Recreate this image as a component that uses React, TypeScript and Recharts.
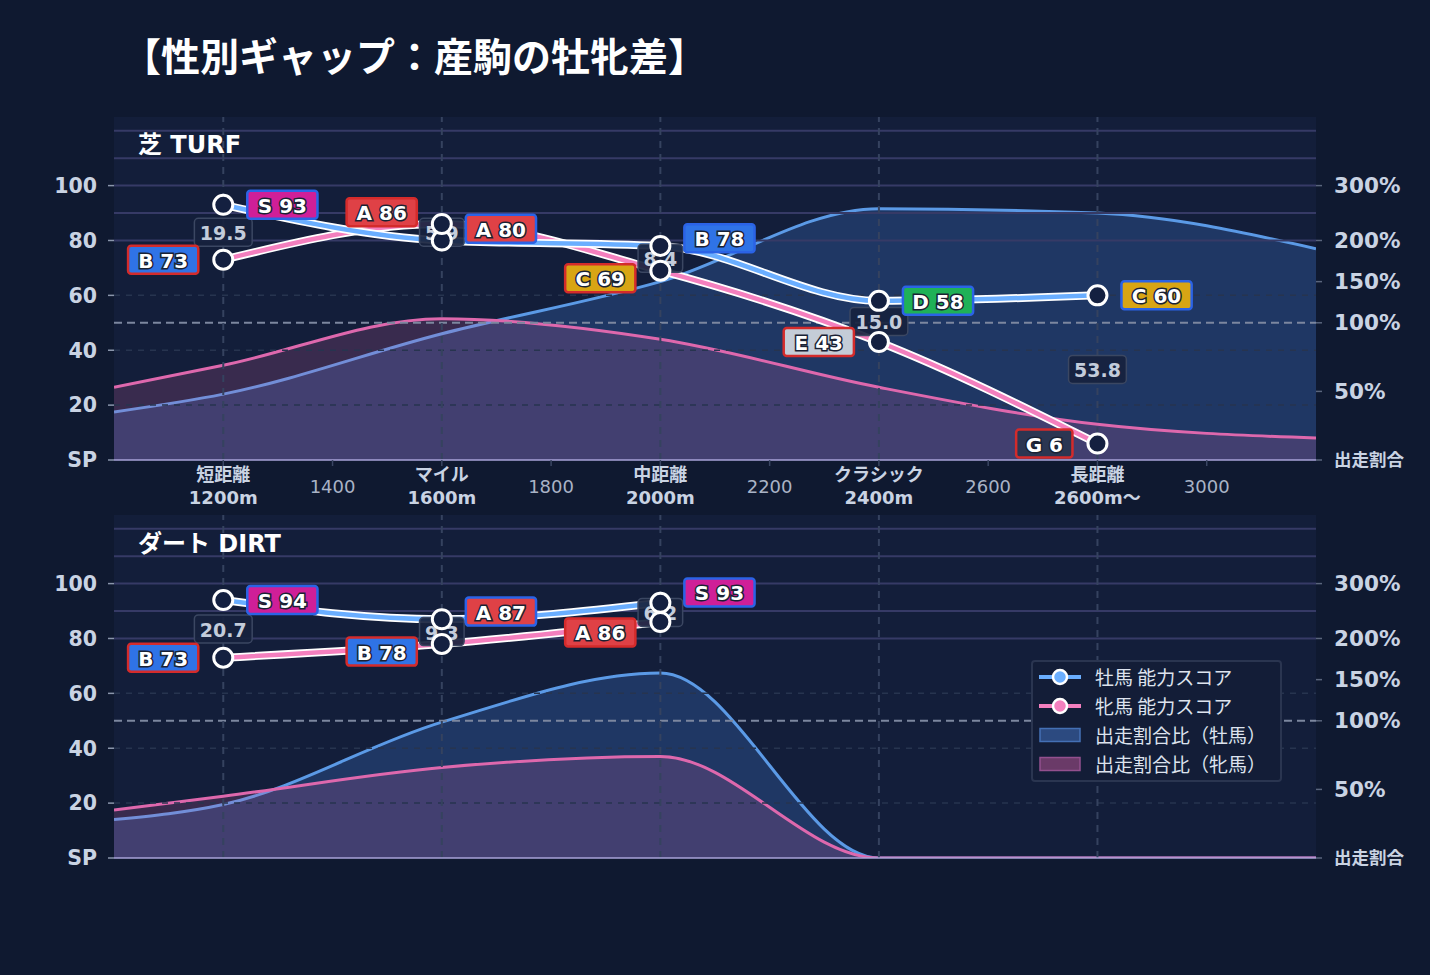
import React from 'react';
import {
  ComposedChart,
  Area,
  Line,
  Scatter,
  XAxis,
  YAxis,
  CartesianGrid,
  ReferenceLine,
} from 'recharts';

const FONT = '"DejaVu Sans", "Noto Sans CJK JP", sans-serif';
const JP = '"Noto Sans CJK JP", "DejaVu Sans", sans-serif';

// Distance axis
const DIST_TICKS = [1200, 1400, 1600, 1800, 2000, 2200, 2400, 2600, 2800, 3000];
const DIST_MAJOR = [1200, 1600, 2000, 2400, 2800];
const DIST_NAMES = ['短距離', 'マイル', '中距離', 'クラシック', '長距離'];
const DIST_METERS = ['1200m', '1600m', '2000m', '2400m', '2600m〜'];

// Left (score) and right (entry share) axes
const SCORE_TICKS = [0, 20, 40, 60, 80, 100];
const SHARE_TICK_PCT = [0, 50, 100, 150, 200, 300];

// Entry share ratio curves (%), sampled along distance
const SHARE_DIST = [1000, 1200, 1600, 2000, 2400, 2800, 3200];
const TURF_MALE_SHARE = [35, 48, 92, 150, 258, 250, 190];
const TURF_FEMALE_SHARE = [53, 69, 105, 88, 53, 26, 16];
const DIRT_MALE_SHARE = [28, 39, 99, 158, 0, 0, 0];
const DIRT_FEMALE_SHARE = [35, 45, 66, 74, 0, 0, 0];

// Ability scores by distance
const TURF_DIST = [1200, 1600, 2000, 2400, 2800];
const TURF_MALE = [93, 80, 78, 58, 60];
const TURF_FEMALE = [73, 86, 69, 43, 6];
const TURF_GAP = ['19.5', '5.9', '8.4', '15.0', '53.8'];

const DIRT_DIST = [1200, 1600, 2000];
const DIRT_MALE = [94, 87, 93];
const DIRT_FEMALE = [73, 78, 86];
const DIRT_GAP = ['20.7', '9.3', '6.2'];

const RANKS: [string, number, string][] = [
  ['S', 90, '#cf1f98'],
  ['A', 80, '#df4146'],
  ['B', 70, '#2f73e6'],
  ['C', 60, '#d8a514'],
  ['D', 50, '#1fb157'],
  ['E', 40, '#c4ccd7'],
  ['F', 20, '#7a5a9a'],
  ['G', 0, '#2b3652'],
];

const rankOf = (v: number) => RANKS.find((r) => v >= r[1]) || RANKS[RANKS.length - 1];

// piecewise scale: 0-100% -> 0-50, 100-200% -> 50-80, 200-300% -> 80-100
const shareToAxis = (p: number) =>
  p <= 100 ? p / 2 : p <= 200 ? 50 + (p - 100) * 0.3 : 80 + (p - 200) * 0.2;
const SHARE_TICKS = SHARE_TICK_PCT.map(shareToAxis);

const Y_MAX = 125;
const PLOT_H = 343;
const PX_PER_UNIT = PLOT_H / Y_MAX;
const LABEL_SEP = 40;

const BG = '#0f1930';
const PLOT_BG = '#131e3a';
const MALE_LINE = '#6aaeff';
const FEMALE_LINE = '#f47fbe';
const MALE_AREA = '#5b9ae6';
const FEMALE_AREA = '#de68ad';

const textW = (s: string, digit: number, dot: number, letter: number, space: number) =>
  s.split('').reduce((w, ch) => {
    if (ch === '.') return w + dot;
    if (ch === ' ') return w + space;
    if (/[0-9]/.test(ch)) return w + digit;
    return w + letter;
  }, 0);

// keeps the two rank tags at one distance from crowding each other
const labelShift = (field: string, m: number, f: number) => {
  const diff = Math.abs(m - f) * PX_PER_UNIT;
  if (diff >= LABEL_SEP) return 0;
  const push = (LABEL_SEP - diff) / 2;
  if (m >= f) return field === 'male' ? -push : push;
  return -push;
};

function GapShape(props: any) {
  const { cx, cy, payload } = props;
  if (cx == null || cy == null) return null;
  const t = payload.gap as string;
  const w = textW(t, 13.2, 7.2, 13.5, 6.6) + 11;
  return (
    <g>
      <rect
        x={cx - w / 2}
        y={cy - 14}
        width={w}
        height={28}
        rx={4}
        fill="#17223e"
        fillOpacity={0.92}
        stroke="#3b4762"
        strokeWidth={1.5}
      />
      <text
        x={cx}
        y={cy + 1}
        textAnchor="middle"
        dominantBaseline="central"
        fontFamily={FONT}
        fontWeight="bold"
        fontSize={19}
        fill="#c3ccdb"
      >
        {t}
      </text>
    </g>
  );
}

function ScoreMarker(props: any) {
  const { cx, cy, payload, field, side, border } = props;
  if (cx == null || cy == null) return null;
  const v = payload[field] as number;
  const [rank, , color] = rankOf(v);
  const label = `${rank} ${v}`;
  const w = textW(label, 13.9, 7, 14.4, 7) + 21;
  const x = side === 'right' ? cx + 24 : cx - 25 - w;
  const ly = cy + labelShift(field, payload.male, payload.female);
  return (
    <g>
      <circle cx={cx} cy={cy} r={9.5} fill="#142040" stroke="#ffffff" strokeWidth={3} />
      <rect
        x={x}
        y={ly - 14}
        width={w}
        height={28}
        rx={3}
        fill={color}
        stroke={border}
        strokeWidth={2.5}
      />
      <text
        x={x + w / 2}
        y={ly + 1}
        textAnchor="middle"
        dominantBaseline="central"
        fontFamily={FONT}
        fontWeight="bold"
        fontSize={20}
        fill="#ffffff"
        stroke="#1a2234"
        strokeWidth={3}
        paintOrder="stroke"
      >
        {label}
      </text>
    </g>
  );
}

function DistTick(props: any) {
  const { x, y, payload } = props;
  const v = payload.value as number;
  const i = DIST_MAJOR.indexOf(v);
  if (i >= 0) {
    return (
      <g>
        <text
          x={x}
          y={y + 6}
          textAnchor="middle"
          dominantBaseline="central"
          fontFamily={FONT}
          fontWeight="bold"
          fontSize={18}
          fill="#c9d3e3"
        >
          {DIST_NAMES[i]}
        </text>
        <text
          x={x}
          y={y + 29}
          textAnchor="middle"
          dominantBaseline="central"
          fontFamily={FONT}
          fontWeight="bold"
          fontSize={18}
          fill="#c9d3e3"
        >
          {DIST_METERS[i]}
        </text>
      </g>
    );
  }
  return (
    <text
      x={x}
      y={y + 18}
      textAnchor="middle"
      dominantBaseline="central"
      fontFamily={FONT}
      fontSize={18}
      fill="#a9b3c6"
    >
      {v}
    </text>
  );
}

function ShareTick(props: any) {
  const { x, y, payload } = props;
  const idx = SHARE_TICKS.indexOf(payload.value);
  const pct = SHARE_TICK_PCT[idx];
  const isBase = pct === 0;
  return (
    <text
      x={x}
      y={y}
      textAnchor="start"
      dominantBaseline="central"
      fontFamily={FONT}
      fontWeight="bold"
      fontSize={isBase ? 17.5 : 21.5}
      fill="#c9d3e3"
    >
      {isBase ? '出走割合' : `${pct}%`}
    </text>
  );
}

type PanelProps = {
  dist: number[];
  male: number[];
  female: number[];
  gaps: string[];
  maleShare: number[];
  femaleShare: number[];
  height: number;
  marginTop: number;
  xAxisHeight: number;
  showXLabels: boolean;
};

function Panel(p: PanelProps) {
  const shareRows = SHARE_DIST.map((d, i) => ({
    d,
    m: shareToAxis(p.maleShare[i]),
    f: shareToAxis(p.femaleShare[i]),
  }));
  const scoreRows = p.dist.map((d, i) => ({
    d,
    male: p.male[i],
    female: p.female[i],
    mid: (p.male[i] + p.female[i]) / 2,
    gap: p.gaps[i],
  }));

  return (
    <ComposedChart
      width={1430}
      height={p.height}
      margin={{ top: p.marginTop, right: 0, bottom: 0, left: 0 }}
    >
      <CartesianGrid yAxisId="l" fill={PLOT_BG} stroke="none" horizontal={false} vertical={false} />
      <XAxis
        dataKey="d"
        type="number"
        domain={[1000, 3200]}
        ticks={p.showXLabels ? DIST_TICKS : DIST_MAJOR}
        allowDataOverflow
        height={p.xAxisHeight}
        axisLine={{ stroke: '#a9a3d8', strokeWidth: 1.5 }}
        tickLine={{ stroke: '#3a4663', strokeWidth: 1.5 }}
        tickSize={6}
        tickMargin={2}
        tick={p.showXLabels ? <DistTick /> : false}
        interval={0}
      />
      <YAxis
        yAxisId="l"
        orientation="left"
        type="number"
        domain={[0, Y_MAX]}
        ticks={SCORE_TICKS}
        allowDataOverflow
        width={114}
        axisLine={false}
        tickLine={{ stroke: '#8a95ab', strokeWidth: 1.5 }}
        tickSize={6}
        tickMargin={11}
        interval={0}
        tickFormatter={(v: number) => (v === 0 ? 'SP' : String(v))}
        tick={{ fill: '#c9d3e3', fontSize: 20.5, fontWeight: 'bold', fontFamily: FONT }}
      />
      <YAxis
        yAxisId="r"
        orientation="right"
        type="number"
        domain={[0, Y_MAX]}
        ticks={SHARE_TICKS}
        allowDataOverflow
        width={114}
        axisLine={false}
        tickLine={{ stroke: '#5a657d', strokeWidth: 1.5 }}
        tickSize={6}
        tickMargin={12}
        interval={0}
        tick={<ShareTick />}
      />

      {/* entry-share areas */}
      <Area
        yAxisId="l"
        data={shareRows}
        dataKey="m"
        type="monotone"
        stroke={MALE_AREA}
        strokeWidth={3}
        fill="#3d74c8"
        fillOpacity={0.3}
        dot={false}
        activeDot={false}
        isAnimationActive={false}
      />
      <Area
        yAxisId="l"
        data={shareRows}
        dataKey="f"
        type="monotone"
        stroke={FEMALE_AREA}
        strokeWidth={3}
        fill="#d060a0"
        fillOpacity={0.2}
        dot={false}
        activeDot={false}
        isAnimationActive={false}
      />

      {/* guide lines */}
      {[80, 90, 100, 110, 120].map((v) => (
        <ReferenceLine key={`s${v}`} yAxisId="l" y={v} stroke="#363a66" strokeWidth={2} />
      ))}
      {[20, 40, 60].map((v) => (
        <ReferenceLine
          key={`g${v}`}
          yAxisId="l"
          y={v}
          stroke="#27344f"
          strokeWidth={1.5}
          strokeDasharray="6 6"
        />
      ))}
      <ReferenceLine
        yAxisId="l"
        y={shareToAxis(100)}
        stroke="#7c879f"
        strokeWidth={2}
        strokeDasharray="8 5"
      />
      {DIST_MAJOR.map((d) => (
        <ReferenceLine
          key={`v${d}`}
          yAxisId="l"
          x={d}
          stroke="#35425f"
          strokeWidth={2}
          strokeDasharray="7 6"
        />
      ))}

      {/* ability score lines */}
      <Line
        yAxisId="l"
        data={scoreRows}
        dataKey="female"
        type="monotone"
        stroke="#ffffff"
        strokeWidth={8}
        dot={false}
        activeDot={false}
        isAnimationActive={false}
      />
      <Line
        yAxisId="l"
        data={scoreRows}
        dataKey="female"
        type="monotone"
        stroke={FEMALE_LINE}
        strokeWidth={4.5}
        dot={false}
        activeDot={false}
        isAnimationActive={false}
      />
      <Line
        yAxisId="l"
        data={scoreRows}
        dataKey="male"
        type="monotone"
        stroke="#ffffff"
        strokeWidth={8}
        dot={false}
        activeDot={false}
        isAnimationActive={false}
      />
      <Line
        yAxisId="l"
        data={scoreRows}
        dataKey="male"
        type="monotone"
        stroke={MALE_LINE}
        strokeWidth={4.5}
        dot={false}
        activeDot={false}
        isAnimationActive={false}
      />

      {/* gap boxes, then markers with rank labels */}
      <Scatter
        yAxisId="l"
        data={scoreRows}
        dataKey="mid"
        shape={(sp: any) => <GapShape {...sp} />}
        isAnimationActive={false}
      />
      <Scatter
        yAxisId="l"
        data={scoreRows}
        dataKey="male"
        shape={(sp: any) => <ScoreMarker {...sp} field="male" side="right" border="#2b63e6" />}
        isAnimationActive={false}
      />
      <Scatter
        yAxisId="l"
        data={scoreRows}
        dataKey="female"
        shape={(sp: any) => <ScoreMarker {...sp} field="female" side="left" border="#d42b2b" />}
        isAnimationActive={false}
      />
    </ComposedChart>
  );
}

function LegendBox() {
  const rowStyle: React.CSSProperties = {
    display: 'flex',
    alignItems: 'center',
    height: 29,
  };
  const txt: React.CSSProperties = {
    marginLeft: 12,
    fontFamily: JP,
    fontSize: 19,
    color: '#dde3ee',
    whiteSpace: 'nowrap',
  };
  const lineSwatch = (c: string) => (
    <svg width={46} height={20}>
      <line x1={2} y1={10} x2={44} y2={10} stroke={c} strokeWidth={4} />
      <circle cx={23} cy={10} r={7} fill={c} stroke="#ffffff" strokeWidth={2.5} />
    </svg>
  );
  const rectSwatch = (fill: string, stroke: string) => (
    <svg width={46} height={20}>
      <rect x={3} y={3.5} width={40} height={13} fill={fill} stroke={stroke} strokeWidth={1.5} />
    </svg>
  );
  return (
    <div
      style={{
        position: 'absolute',
        left: 1031,
        top: 660,
        width: 251,
        height: 122,
        boxSizing: 'border-box',
        border: '2px solid #2a3550',
        borderRadius: 4,
        background: '#131d37',
        padding: '0 0 0 4px',
      }}
    >
      <div style={rowStyle}>
        {lineSwatch(MALE_LINE)}
        <span style={txt}>牡馬 能力スコア</span>
      </div>
      <div style={rowStyle}>
        {lineSwatch(FEMALE_LINE)}
        <span style={txt}>牝馬 能力スコア</span>
      </div>
      <div style={rowStyle}>
        {rectSwatch('#2c4a80', '#4470b5')}
        <span style={txt}>出走割合比（牡馬）</span>
      </div>
      <div style={rowStyle}>
        {rectSwatch('#6a3a68', '#93508e')}
        <span style={txt}>出走割合比（牝馬）</span>
      </div>
    </div>
  );
}

export default function App() {
  const header: React.CSSProperties = {
    position: 'absolute',
    left: 138,
    fontFamily: FONT,
    fontWeight: 'bold',
    fontSize: 24,
    lineHeight: '30px',
    color: '#ffffff',
    whiteSpace: 'nowrap',
  };
  return (
    <div
      style={{
        position: 'fixed',
        left: 0,
        top: 0,
        width: 1430,
        height: 975,
        background: BG,
        overflow: 'hidden',
      }}
    >
      <div
        style={{
          position: 'absolute',
          left: 122,
          top: 28,
          fontFamily: JP,
          fontWeight: 'bold',
          fontSize: 39,
          lineHeight: '52px',
          color: '#ffffff',
          whiteSpace: 'nowrap',
        }}
      >
        【性別ギャップ：産駒の牡牝差】
      </div>

      <div style={{ position: 'absolute', left: 0, top: 0 }}>
        <Panel
          dist={TURF_DIST}
          male={TURF_MALE}
          female={TURF_FEMALE}
          gaps={TURF_GAP}
          maleShare={TURF_MALE_SHARE}
          femaleShare={TURF_FEMALE_SHARE}
          height={515}
          marginTop={117}
          xAxisHeight={55}
          showXLabels
        />
      </div>
      <div style={{ ...header, top: 130 }}>芝 TURF</div>

      <div style={{ position: 'absolute', left: 0, top: 515 }}>
        <Panel
          dist={DIRT_DIST}
          male={DIRT_MALE}
          female={DIRT_FEMALE}
          gaps={DIRT_GAP}
          maleShare={DIRT_MALE_SHARE}
          femaleShare={DIRT_FEMALE_SHARE}
          height={363}
          marginTop={0}
          xAxisHeight={20}
          showXLabels={false}
        />
      </div>
      <div style={{ ...header, top: 529 }}>ダート DIRT</div>

      <LegendBox />
    </div>
  );
}
